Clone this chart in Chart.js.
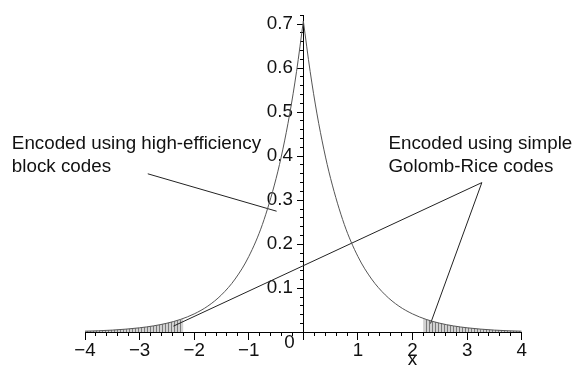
<!DOCTYPE html>
<html>
<head>
<meta charset="utf-8">
<script src="https://cdn.jsdelivr.net/npm/chart.js@4/dist/chart.umd.min.js"></script>
<style>
  html, body { margin: 0; padding: 0; background: #fff; }
  canvas { display: block; }
</style>
</head>
<body>
<canvas id="graph" width="573" height="365"></canvas>
<script>
// density curve, values
const xLeft = [-4, -3.75, -3.5, -3.25, -3, -2.75, -2.5, -2.25, -2, -1.75, -1.5, -1.25, -1, -0.75, -0.5, -0.375, -0.25, -0.125, 0];
const yLeft = [0.0025, 0.0035, 0.0050, 0.0072, 0.0102, 0.0145, 0.0206, 0.0293, 0.0418, 0.0595, 0.085, 0.121, 0.172, 0.245, 0.349, 0.416, 0.496, 0.592, 0.707];
const xRight = [0, 0.125, 0.25, 0.375, 0.5, 0.75, 1, 1.25, 1.5, 1.75, 2, 2.25, 2.5, 2.75, 3, 3.25, 3.5, 3.75, 4];
const yRight = [0.707, 0.592, 0.496, 0.416, 0.349, 0.245, 0.172, 0.121, 0.085, 0.0595, 0.0418, 0.0293, 0.0206, 0.0145, 0.0102, 0.0072, 0.0050, 0.0035, 0.0025];

// hatched tails (|x| > 2.2)
const xTailL = [-4, -3.75, -3.5, -3.25, -3, -2.75, -2.5, -2.25, -2.2];
const yTailL = [0.0025, 0.0035, 0.0050, 0.0072, 0.0102, 0.0145, 0.0206, 0.0293, 0.0315];
const xTailR = [2.2, 2.25, 2.5, 2.75, 3, 3.25, 3.5, 3.75, 4];
const yTailR = [0.0315, 0.0293, 0.0206, 0.0145, 0.0102, 0.0072, 0.0050, 0.0035, 0.0025];

// pointer lines of the notes
const pointer1X = [-2.85, -0.49];
const pointer1Y = [0.36, 0.275];
const pointer2X = [-2.38, 3.27, 2.33];
const pointer2Y = [0.014, 0.34, 0.02];

// notes (data units)
const notes = ['Encoded using high-efficiency', 'block codes', 'Encoded using simple', 'Golomb-Rice codes'];
const noteX = [-5.34, -5.34, 1.56, 1.56];
const noteY = [0.417, 0.365, 0.417, 0.365];

const FONT = 'Liberation Sans, Arial, sans-serif';
const FSIZE = 18.8;

function pts(xs, ys) {
    return xs.map((x, i) => ({x: x, y: ys[i]}));
}

function hatch() {
    const c = document.createElement('canvas');
    c.width = 3; c.height = 8;
    const g = c.getContext('2d');
    g.fillStyle = '#d2d2d2';
    g.fillRect(0, 0, 3, 8);
    g.fillStyle = '#7a7a7a';
    g.fillRect(0, 0, 1, 8);
    return g.createPattern(c, 'repeat');
}

function fmt(v) {
    if (Math.abs(v) < 1e-9) return '';
    return v < 0 ? '\u2212' + Math.abs(v) : String(v);
}

const textPlugin = {
    id: 'texts',
    afterDraw(chart) {
        const ctx = chart.ctx;
        const sx = chart.scales.x, sy = chart.scales.y;
        ctx.save();
        ctx.fillStyle = '#111';
        ctx.font = FSIZE + 'px ' + FONT;
        ctx.textBaseline = 'alphabetic';
        ctx.textAlign = 'left';
        notes.forEach((t, i) => {
            ctx.fillText(t, sx.getPixelForValue(noteX[i]), sy.getPixelForValue(noteY[i]));
        });
        ctx.textAlign = 'center';
        // shared origin label
        ctx.fillText('0', sx.getPixelForValue(0) - 14, sy.getPixelForValue(0) + 16);
        // axis name
        ctx.fillText('x', sx.getPixelForValue(2), sy.getPixelForValue(0) + 33);
        ctx.restore();
    }
};

document.addEventListener('DOMContentLoaded', () => {
    const graph = document.querySelector('#graph');
    const pat = hatch();
    const curve = {showLine: true, pointRadius: 0, borderColor: '#555', borderWidth: 1, fill: false, cubicInterpolationMode: 'monotone'};
    const tail = {showLine: true, pointRadius: 0, borderWidth: 0, borderColor: 'rgba(0,0,0,0)', backgroundColor: pat, fill: 'origin', cubicInterpolationMode: 'monotone'};
    const pointer = {showLine: true, pointRadius: 0, borderColor: '#222', borderWidth: 1, fill: false, tension: 0};

    const data = {
        datasets: [
            Object.assign({label: 'left', data: pts(xLeft, yLeft)}, curve),
            Object.assign({label: 'right', data: pts(xRight, yRight)}, curve),
            Object.assign({label: 'p1', data: pts(pointer1X, pointer1Y)}, pointer),
            Object.assign({label: 'p2', data: pts(pointer2X, pointer2Y)}, pointer),
            Object.assign({label: 'tailL', data: pts(xTailL, yTailL)}, tail),
            Object.assign({label: 'tailR', data: pts(xTailR, yTailR)}, tail)
        ]
    };

    const tickFont = {family: FONT, size: FSIZE};
    const config = {
        type: 'scatter',
        data: data,
        options: {
            responsive: false,
            animation: false,
            layout: {padding: {left: 85, right: 51.3, top: 12, bottom: 32.7}},
            plugins: {legend: {display: false}, tooltip: {enabled: false}},
            scales: {
                x: {
                    type: 'linear', min: -4, max: 4, position: {y: 0},
                    border: {color: '#000', width: 1},
                    grid: {drawOnChartArea: false, tickLength: 7, color: '#000'},
                    ticks: {stepSize: 1, callback: fmt, font: tickFont, color: '#111', padding: 0, maxRotation: 0, autoSkip: false}
                },
                xMinor: {
                    type: 'linear', axis: 'x', min: -4, max: 4, position: {y: 0},
                    border: {display: false},
                    grid: {drawOnChartArea: false, tickLength: 4, color: '#000'},
                    ticks: {display: false, stepSize: 0.2, autoSkip: false}
                },
                y: {
                    type: 'linear', min: 0, max: 0.72, position: {x: 0},
                    border: {color: '#000', width: 1},
                    grid: {drawOnChartArea: false, tickLength: 6, color: '#000'},
                    ticks: {stepSize: 0.1, includeBounds: false, font: tickFont, color: '#111', padding: 4,
                        // two no-break spaces keep the labels clear of the axis
                        callback: v => (Math.abs(v) < 1e-9 ? '' : v.toFixed(1) + '\u00A0\u00A0')}
                },
                yMinor: {
                    type: 'linear', axis: 'y', min: 0, max: 0.72, position: {x: 0},
                    border: {display: false},
                    grid: {drawOnChartArea: false, tickLength: 3, color: '#000'},
                    ticks: {display: false, stepSize: 0.02, includeBounds: false, autoSkip: false}
                }
            }
        },
        plugins: [textPlugin]
    };

    new Chart(graph, config);
});
</script>
</body>
</html>
